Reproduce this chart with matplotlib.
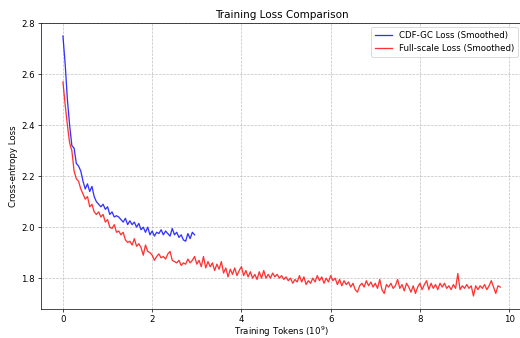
import numpy as np
import matplotlib
matplotlib.use('Agg')
import matplotlib.pyplot as plt

# Curvas suavizadas (paso ~0.05 x 10^9 tokens)
cdf_gc_loss = [
    2.75, 2.64, 2.50, 2.40, 2.32, 2.31, 2.25, 2.24, 2.22, 2.18,
    2.15, 2.17, 2.14, 2.16, 2.12, 2.10, 2.09, 2.08, 2.09, 2.07,
    2.08, 2.05, 2.06, 2.04, 2.045, 2.04, 2.03, 2.02, 2.035, 2.01,
    2.025, 2.01, 2.02, 2.00, 2.015, 1.99, 2.00, 1.98, 2.00, 1.97,
    1.985, 1.965, 1.98, 1.975, 1.99, 1.97, 1.985, 1.975, 1.965, 1.995,
    1.97, 1.98, 1.96, 1.97, 1.95, 1.945, 1.975, 1.955, 1.98, 1.97,
]
cdf_gc_end = 2.95

full_scale_loss = [
    2.57, 2.48, 2.40, 2.33, 2.30, 2.22, 2.19, 2.18, 2.15, 2.13,
    2.11, 2.12, 2.08, 2.09, 2.06, 2.05, 2.06, 2.04, 2.05, 2.02,
    2.03, 2.00, 1.995, 2.01, 1.98, 1.985, 1.97, 1.98, 1.95, 1.94,
    1.945, 1.93, 1.955, 1.925, 1.935, 1.92, 1.89, 1.93, 1.905, 1.90,
    1.89, 1.87, 1.885, 1.895, 1.88, 1.885, 1.875, 1.895, 1.905, 1.87,
    1.865, 1.86, 1.87, 1.85, 1.86, 1.855, 1.875, 1.86, 1.87, 1.885,
    # desde 3.0
    1.855, 1.87, 1.845, 1.885, 1.84, 1.865, 1.845, 1.86, 1.83, 1.855,
    1.835, 1.865, 1.82, 1.84, 1.805, 1.835, 1.815, 1.84, 1.81, 1.83,
    1.845, 1.81, 1.83, 1.805, 1.825, 1.80, 1.815, 1.795, 1.825, 1.80,
    1.83, 1.80, 1.815, 1.80, 1.82, 1.805, 1.815, 1.80, 1.81, 1.795,
    1.805, 1.79, 1.80, 1.78, 1.795, 1.785, 1.81, 1.785, 1.805, 1.775,
    1.79, 1.78, 1.80, 1.785, 1.81, 1.79, 1.805, 1.78, 1.80, 1.785,
    1.81, 1.79, 1.80, 1.775, 1.795, 1.77, 1.79, 1.775, 1.785, 1.765,
    1.78, 1.755, 1.745, 1.77, 1.78, 1.765, 1.79, 1.77, 1.785, 1.765,
    1.78, 1.76, 1.795, 1.755, 1.74, 1.775, 1.765, 1.78, 1.76, 1.77,
    1.795, 1.76, 1.775, 1.75, 1.78, 1.765, 1.745, 1.77, 1.74, 1.765,
    1.78, 1.755, 1.775, 1.79, 1.755, 1.78, 1.76, 1.775, 1.755, 1.78,
    1.765, 1.78, 1.76, 1.77, 1.755, 1.775, 1.76, 1.818, 1.755, 1.77,
    1.76, 1.775, 1.76, 1.77, 1.73, 1.77, 1.755, 1.77, 1.76, 1.775,
    1.755, 1.77, 1.79, 1.765, 1.74, 1.77, 1.765,
]
full_scale_end = 9.8

x_cdf = np.linspace(0, cdf_gc_end, len(cdf_gc_loss))
x_full = np.linspace(0, full_scale_end, len(full_scale_loss))

dpi = 62.4
fig = plt.figure(figsize=(520 / dpi, 338 / dpi), dpi=dpi)
ax = fig.add_axes([0.079, 0.0858, 0.925, 0.846])

ax.plot(x_cdf, cdf_gc_loss, color='blue', alpha=0.8, label='CDF-GC Loss (Smoothed)')
ax.plot(x_full, full_scale_loss, color='red', alpha=0.8, label='Full-scale Loss (Smoothed)')

ax.set_title('Training Loss Comparison')
ax.set_xlabel('Training Tokens ($10^9$)', labelpad=1)
ax.set_ylabel('Cross-entropy Loss')
ax.grid(True, linestyle='--', color='#b0b0b0', alpha=0.8)
ax.legend(loc='upper right')
ax.spines['right'].set_visible(False)

plt.savefig('out.png', dpi=dpi)
